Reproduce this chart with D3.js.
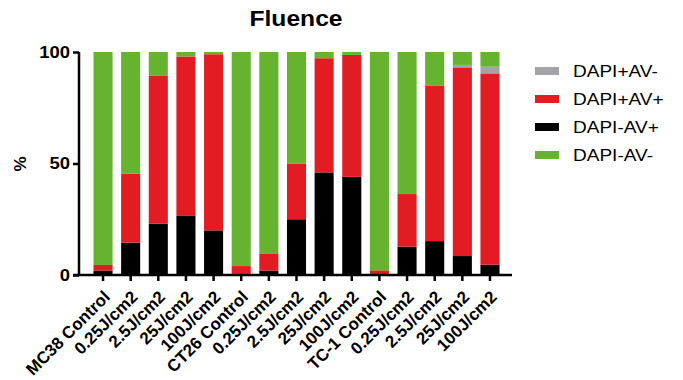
<!DOCTYPE html>
<html>
<head>
<meta charset="utf-8">
<script src="https://cdn.jsdelivr.net/npm/d3@7"></script>
<style>
body { margin: 0; background: #fff; }
text { font-family: "Liberation Sans", Arial, sans-serif; font-weight: bold; }
</style>
</head>
<body>
<svg id="chart" width="683" height="380"></svg>
<script>
// groups along the x axis
var categories = ['MC38 Control', '0.25J/cm2', '2.5J/cm2', '25J/cm2', '100J/cm2',
    'CT26 Control', '0.25J/cm2', '2.5J/cm2', '25J/cm2', '100J/cm2',
    'TC-1 Control', '0.25J/cm2', '2.5J/cm2', '25J/cm2', '100J/cm2'];

// % of cells in each population (stacked bottom -> top: black, red, gray, green)
var dapiNegAvPos = [2, 14.5, 23, 26.5, 20, 0.5, 2, 25, 46, 44, 0.3, 12.7, 15.2, 8.5, 4.6];
var dapiPosAvPos = [2.5, 31, 66.5, 71.5, 79, 3.5, 7.7, 25, 51.2, 54.7, 1.8, 23.6, 69.6, 84.6, 85.8];
var dapiPosAvNeg = [0, 0, 0, 0, 0, 0, 0, 0, 0, 0, 0, 0, 0, 1.1, 3];
var dapiNegAvNeg = [95.5, 54.5, 10.5, 2, 1, 96, 90.3, 50, 2.8, 1.3, 97.9, 63.7, 15.2, 5.8, 6.6];

var yTicks = [0, 50, 100];

var series = [
    {key: 'DAPI-AV+', values: dapiNegAvPos, color: '#000000'},
    {key: 'DAPI+AV+', values: dapiPosAvPos, color: '#e31b23'},
    {key: 'DAPI+AV-', values: dapiPosAvNeg, color: '#a3a3a8'},
    {key: 'DAPI-AV-', values: dapiNegAvNeg, color: '#65b32e'}
];
var legendOrder = ['DAPI+AV-', 'DAPI+AV+', 'DAPI-AV+', 'DAPI-AV-'];

var rows = categories.map(function(c, i) {
    var r = {idx: i};
    series.forEach(function(s) { r[s.key] = s.values[i]; });
    return r;
});

var svg = d3.select('#chart');
var stretch = 1.12; // the glyphs in the reference are a little wide

var x = d3.scaleBand()
    .domain(d3.range(categories.length))
    .range([89.2, 503.8])
    .paddingInner(0.31)
    .paddingOuter(0.155);

var y = d3.scaleLinear().domain([0, 100]).range([275, 52]);

var stack = d3.stack().keys(series.map(function(s) { return s.key; }));
var layers = stack(rows);

var colorOf = {};
series.forEach(function(s) { colorOf[s.key] = s.color; });

// bars
var barLayer = svg.append('g').attr('class', 'bars');
barLayer.selectAll('g').data(layers).enter().append('g')
    .attr('fill', function(d) { return colorOf[d.key]; })
    .selectAll('rect').data(function(d) { return d; }).enter().append('rect')
    .attr('x', function(d, i) { return x(i); })
    .attr('width', x.bandwidth())
    .attr('y', function(d) { return y(d[1]); })
    .attr('height', function(d) { return Math.max(0, y(d[0]) - y(d[1])); });

// y axis
var yAxis = svg.append('g').attr('transform', 'translate(79,0)')
    .call(d3.axisLeft(y).tickValues(yTicks).tickSize(6).tickPadding(3));
yAxis.select('.domain').attr('d', 'M0,' + y(100) + 'V' + y(0)).attr('stroke-width', 2.5);
yAxis.selectAll('.tick line').attr('stroke-width', 2.5);
yAxis.selectAll('.tick text').attr('font-size', 16.5).attr('fill', '#000')
    .style('font-family', '"Liberation Sans", Arial, sans-serif')
    .attr('x', -9 / stretch)
    .attr('transform', 'scale(' + stretch + ',1)');

// x axis
var xAxis = svg.append('g').attr('transform', 'translate(0,' + y(0) + ')')
    .call(d3.axisBottom(x).tickSize(6).tickFormat(function(i) { return categories[i]; }));
xAxis.select('.domain').attr('d', 'M73,0H512').attr('stroke-width', 2.5);
xAxis.selectAll('.tick line').attr('stroke-width', 2.5);
xAxis.selectAll('.tick text')
    .attr('font-size', 17).attr('fill', '#000')
    .style('font-family', '"Liberation Sans", Arial, sans-serif')
    .attr('text-anchor', 'end')
    .attr('dy', null)
    .attr('y', 0)
    .attr('transform', 'translate(8,23) rotate(-45)');

// axis title
svg.append('text')
    .attr('transform', 'translate(26,164) rotate(-90)')
    .attr('text-anchor', 'middle')
    .attr('font-size', 17)
    .text('%');

// chart title
svg.append('text')
    .attr('transform', 'translate(296,26) scale(' + stretch + ',1)')
    .attr('text-anchor', 'middle')
    .attr('font-size', 22)
    .text('Fluence');

// legend
var legend = svg.append('g').attr('transform', 'translate(535,71)');
var item = legend.selectAll('g').data(legendOrder).enter().append('g')
    .attr('transform', function(d, i) { return 'translate(0,' + (i * 28) + ')'; });
item.append('rect')
    .attr('x', 0).attr('y', -4).attr('width', 24).attr('height', 8)
    .attr('fill', function(d) { return colorOf[d]; });
item.append('text')
    .attr('transform', 'translate(38,6) scale(' + stretch + ',1)')
    .attr('font-size', 17)
    .style('font-weight', 'normal')
    .text(function(d) { return d; });
</script>
</body>
</html>
